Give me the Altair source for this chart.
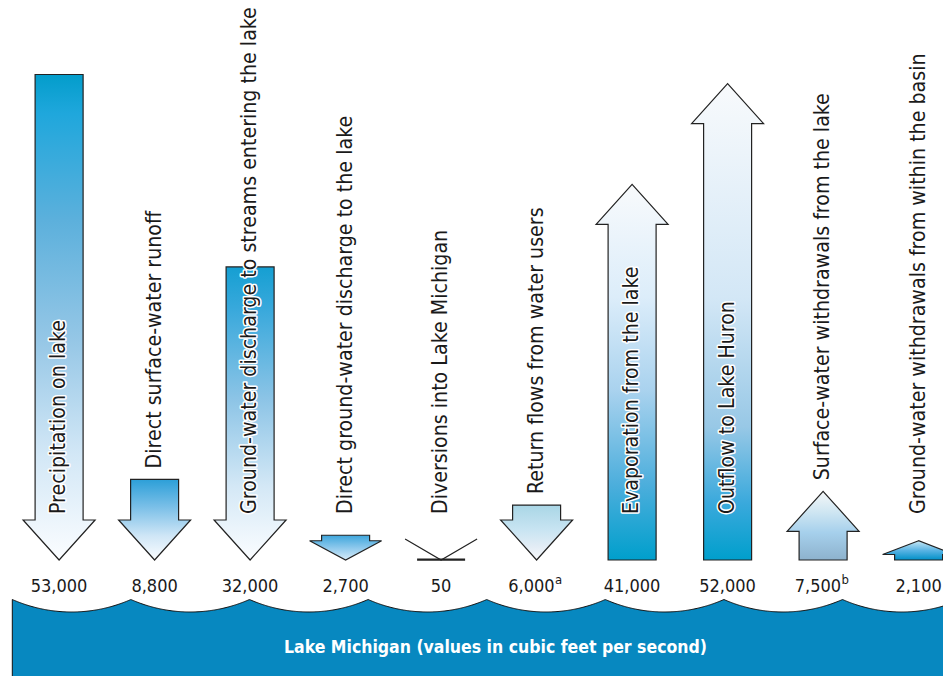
import altair as alt
import pandas as pd
import numpy as np

# ---------------- data ----------------
labels = [
    "Precipitation on lake",
    "Direct surface-water runoff",
    "Ground-water discharge to streams entering the lake",
    "Direct ground-water discharge to the lake",
    "Diversions into Lake Michigan",
    "Return flows from water users",
    "Evaporation from the lake",
    "Outflow to Lake Huron",
    "Surface-water withdrawals from the lake",
    "Ground-water withdrawals from within the basin",
]
values = [53000, 8800, 32000, 2700, 50, 6000, 41000, 52000, 7500, 2100]
directions = ["in", "in", "in", "in", "in", "in", "out", "out", "out", "out"]
value_text = ["53,000", "8,800", "32,000", "2,700", "50", "6,000", "41,000", "52,000", "7,500", "2,100"]
footnotes = ["", "", "", "", "", "a", "", "", "b", ""]
lake_title = "Lake Michigan (values in cubic feet per second)"

# ---------------- layout ----------------
W, H = 935, 668
SLOT_PX = 95.5          # horizontal space per arrow
X0_PAGE = 11.35         # page x of first slot's left edge
PAGE_LEFT, PAGE_TOP = 8, 8
BASE_Y = 560            # page y where arrows meet the lake side
PX_PER_CFS = 0.00916    # arrow length scale
EPS = 0.01


def xd(px):
    return (px - X0_PAGE) / SLOT_PX


def yd(py):
    return (BASE_Y - py) / PX_PER_CFS


x_domain = [xd(PAGE_LEFT), xd(PAGE_LEFT + W)]
y_domain = [yd(PAGE_TOP + H), yd(PAGE_TOP)]

FONT = "DejaVu Sans Condensed, Roboto, sans-serif"
TXT = "#1a1a1a"
EDGE = "#222222"

SHAFT = 24 / SLOT_PX
HEADW = 36 / SLOT_PX


def X(f):
    return alt.X(f, type="quantitative", scale=alt.Scale(domain=x_domain, nice=False, zero=False), axis=None)


def Y(f):
    return alt.Y(f, type="quantitative", scale=alt.Scale(domain=y_domain, nice=False, zero=False), axis=None)


def grad(stops):
    return alt.Gradient(
        gradient="linear", x1=0, y1=0, x2=0, y2=1,
        stops=[alt.GradientStop(offset=o, color=c) for o, c in stops],
    )


styles = [
    [(0, "#039dcb"), (0.08, "#1fa7dc"), (0.3, "#5cb0dc"), (0.55, "#96c7e6"), (0.78, "#d2e7f6"), (1, "#fbfdff")],
    [(0, "#2c9fd8"), (0.35, "#7cc0e8"), (0.7, "#cfe6f6"), (1, "#fbfdff")],
    [(0, "#159fd2"), (0.15, "#3aa9dc"), (0.45, "#8cc4e6"), (0.75, "#d4e8f6"), (1, "#fbfdff")],
    [(0, "#3ea6dc"), (0.5, "#8cc8ec"), (1, "#d8ecf8")],
    [(0, "#ffffff"), (1, "#ffffff")],
    [(0, "#a9d6e6"), (0.45, "#c8e4f2"), (0.75, "#e2ecf5"), (1, "#f9fafc")],
    [(0, "#f8fafc"), (0.3, "#dcedfa"), (0.55, "#a9d2ee"), (0.8, "#4caedc"), (1, "#009fcc")],
    [(0, "#f8fafc"), (0.45, "#d3e7f6"), (0.72, "#98c8e6"), (0.88, "#3aa9dc"), (1, "#009fcc")],
    [(0, "#f5f7f8"), (0.3, "#cfe6f2"), (0.6, "#a6d0ec"), (1, "#8db2cd")],
    [(0, "#c8e8f4"), (0.5, "#5ab4e4"), (1, "#0090c8")],
]

# ---------------- arrow geometry ----------------
arrow_rows = []
v_rows = []
base_rows = []
label_rows = []
for i, (v, d) in enumerate(zip(values, directions)):
    c = i + 0.5
    vpx = v * PX_PER_CFS
    if vpx < 10:
        head = 21 / PX_PER_CFS
        v_rows += [
            {"id": i, "x": c - HEADW, "y": head, "o": 0},
            {"id": i, "x": c, "y": 0, "o": 1},
            {"id": i, "x": c + HEADW, "y": head, "o": 2},
        ]
        base_rows.append({"id": i, "x": c - SHAFT, "x2": c + SHAFT, "y": v})
    else:
        head = min(40, vpx - 5.5) / PX_PER_CFS
        if d == "in":
            pts = [(0, c, c), (head, c - HEADW, c + HEADW), (head + EPS, c - SHAFT, c + SHAFT),
                   (v, c - SHAFT, c + SHAFT)]
        else:
            pts = [(0, c - SHAFT, c + SHAFT), (v - head - EPS, c - SHAFT, c + SHAFT),
                   (v - head, c - HEADW, c + HEADW), (v, c, c)]
        for yy, xl, xr in pts:
            arrow_rows.append({"id": i, "y": yy, "xl": xl, "xr": xr})
    if vpx > 200:
        lb = 514
    else:
        lb = min(514, BASE_Y - vpx - 11)
    label_rows.append({
        "id": i, "c": c, "label": labels[i], "ly": yd(lb),
        "num": value_text[i], "fn": footnotes[i], "ny": yd(591.5),
    })

arrows = pd.DataFrame(arrow_rows)
vdf = pd.DataFrame(v_rows)
bdf = pd.DataFrame(base_rows)
ldf = pd.DataFrame(label_rows)

# ---------------- lake shape ----------------
xs = np.linspace(12.3, PAGE_LEFT + W + 2, 900)
period = 118.6
R = 147.0
k = np.floor((xs - 12.3) / period)
xm = 12.3 + (k + 0.5) * period
ys = (612 - R) + np.sqrt(np.maximum(R ** 2 - (xs - xm) ** 2, 0))
lake = pd.DataFrame({"x": xd(xs), "y": yd(ys), "y2": y_domain[0] - 2000})
edge = pd.concat([
    pd.DataFrame({"x": [xd(12.3)], "y": [y_domain[0] - 2000]}),
    lake[["x", "y"]],
], ignore_index=True)
edge["o"] = np.arange(len(edge))

layers = []

layers.append(
    alt.Chart(lake).mark_area(fill="#0788c0", clip=True)
    .encode(x=X("x"), y=Y("y"), y2="y2")
)
layers.append(
    alt.Chart(edge).mark_line(stroke="#111111", strokeWidth=1, clip=True)
    .encode(x=X("x"), y=Y("y"), order=alt.Order("o:Q"))
)

for i in sorted(arrows["id"].unique()):
    layers.append(
        alt.Chart(arrows).transform_filter(f"datum.id == {i}")
        .mark_area(orient="horizontal", fill=grad(styles[i]), stroke=EDGE, strokeWidth=1.2, clip=True)
        .encode(x=X("xl"), x2="xr", y=Y("y"))
    )

if len(vdf):
    layers.append(
        alt.Chart(vdf).mark_line(stroke=EDGE, strokeWidth=1.2)
        .encode(x=X("x"), y=Y("y"), detail="id:N", order=alt.Order("o:Q"))
    )
    layers.append(
        alt.Chart(bdf).mark_rule(stroke=EDGE, strokeWidth=2.2)
        .encode(x=X("x"), x2="x2", y=Y("y"))
    )

# arrow labels with white halo
text_common = dict(angle=270, align="left", baseline="middle", font=FONT, fontSize=21.2)
layers.append(
    alt.Chart(ldf).mark_text(fill="white", stroke="white", strokeWidth=3, strokeJoin="round", **text_common)
    .encode(x=X("c"), y=Y("ly"), text="label:N")
)
layers.append(
    alt.Chart(ldf).mark_text(fill=TXT, **text_common)
    .encode(x=X("c"), y=Y("ly"), text="label:N")
)

# value labels
layers.append(
    alt.Chart(ldf).transform_filter("datum.fn == ''")
    .mark_text(align="center", baseline="alphabetic", font=FONT, fontSize=18, fill=TXT)
    .encode(x=X("c"), y=Y("ny"), text="num:N")
)
layers.append(
    alt.Chart(ldf).transform_filter("datum.fn != ''")
    .mark_text(align="right", baseline="alphabetic", font=FONT, fontSize=18, fill=TXT, dx=18)
    .encode(x=X("c"), y=Y("ny"), text="num:N")
)
layers.append(
    alt.Chart(ldf).transform_filter("datum.fn != ''")
    .mark_text(align="left", baseline="alphabetic", font=FONT, fontSize=13, fill=TXT, dx=18.5, dy=-8)
    .encode(x=X("c"), y=Y("ny"), text="fn:N")
)

title_df = pd.DataFrame({"x": [xd(495.5)], "y": [yd(648)], "t": [lake_title]})
layers.append(
    alt.Chart(title_df).mark_text(align="center", baseline="middle", font=FONT, fontSize=17.5,
                                  fontWeight="bold", fill="white")
    .encode(x=X("x"), y=Y("y"), text="t:N")
)

chart = (
    alt.layer(*layers)
    .properties(width=W, height=H, padding=0, autosize="none", background="white")
    .configure_view(strokeWidth=0)
)

chart.save("out.html", embed_options={"renderer": "svg", "actions": False})
